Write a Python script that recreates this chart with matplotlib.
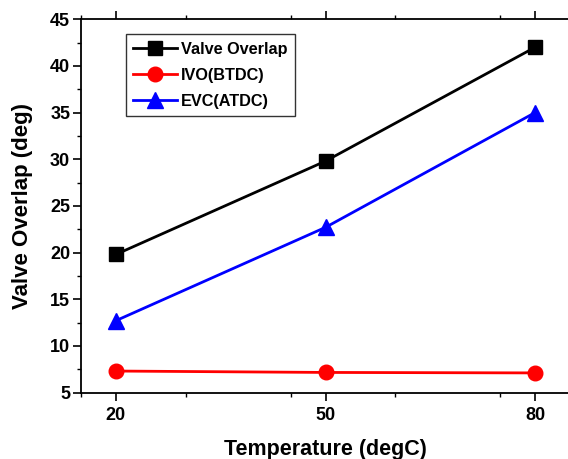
import matplotlib.pyplot as plt
from matplotlib.ticker import MultipleLocator

# data
temperature = [20, 50, 80]
valve_overlap = [19.8, 29.8, 42.0]
ivo_btdc = [7.3, 7.15, 7.1]
evc_atdc = [12.7, 22.7, 35.0]

plt.rcParams['font.family'] = ['Liberation Sans', 'DejaVu Sans']
plt.rcParams['font.weight'] = 'bold'

fig = plt.figure(figsize=(5.68, 4.59), dpi=100)
# right spine sits just outside the picture, as in the original
ax = fig.add_axes([81 / 568, 1 - 392.5 / 459, 489 / 568, 373.2 / 459])

ax.plot(temperature, valve_overlap, color='black', marker='s', markersize=9.5,
        linewidth=2, label='Valve Overlap')
ax.plot(temperature, ivo_btdc, color='red', marker='o', markersize=10.5,
        linewidth=2, label='IVO(BTDC)')
ax.plot(temperature, evc_atdc, color='blue', marker='^', markersize=11,
        linewidth=2, label='EVC(ATDC)')

ax.set_xlim(15, 85)
ax.set_ylim(5, 45)
ax.set_xticks(temperature)
ax.xaxis.set_minor_locator(MultipleLocator(15))
ax.yaxis.set_major_locator(MultipleLocator(5))
ax.yaxis.set_minor_locator(MultipleLocator(2.5))

ax.tick_params(axis='both', which='major', direction='out', length=5.8, width=1.2,
               labelsize=13)
ax.tick_params(axis='both', which='minor', direction='out', length=3, width=1)
ax.tick_params(axis='x', which='both', top=True)
ax.tick_params(axis='x', which='major', pad=4.5)
ax.tick_params(axis='y', which='major', pad=2)
for s in ax.spines.values():
    s.set_linewidth(1.3)

ax.set_xlabel('Temperature (degC)', fontsize=15.5, fontweight='bold', labelpad=11)
ax.set_ylabel('Valve Overlap (deg)', fontsize=16, fontweight='bold', labelpad=12)

leg = ax.legend(loc='upper left', bbox_to_anchor=(45 / 489, 1 - 15 / 373.2),
                fontsize=11.7, frameon=True, fancybox=False, edgecolor='black',
                handlelength=2.7, handletextpad=0.25,
                borderpad=0.45, labelspacing=0.68, borderaxespad=0)
leg.get_frame().set_linewidth(1)

plt.savefig('out.png', dpi=100)
